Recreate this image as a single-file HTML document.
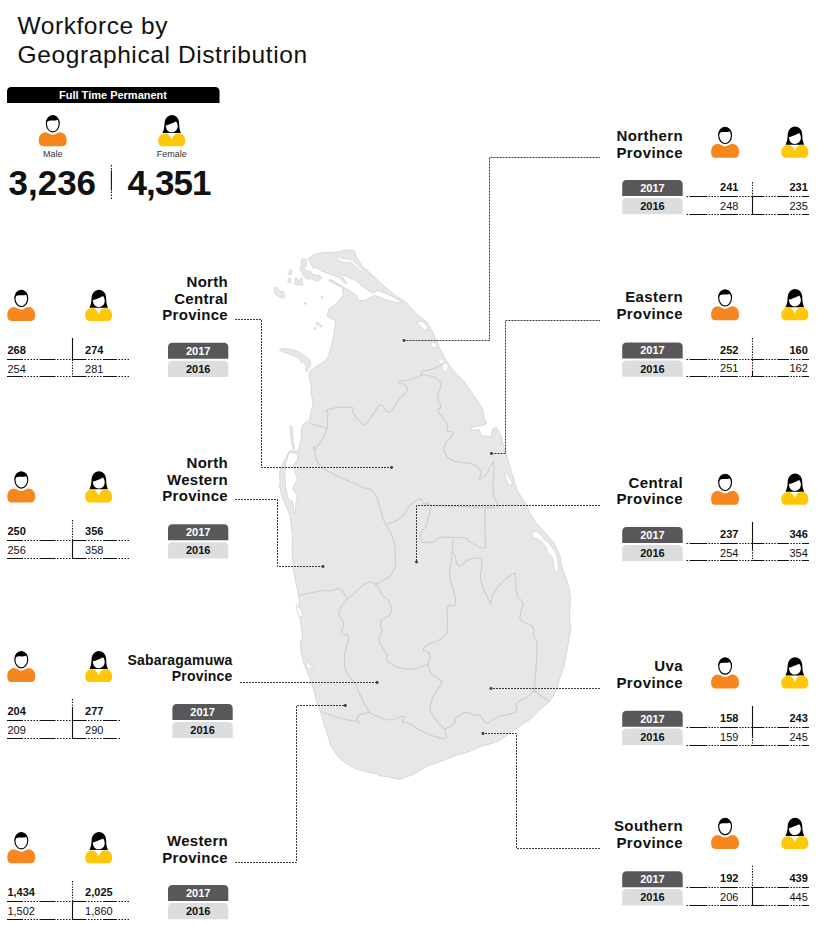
<!DOCTYPE html>
<html><head><meta charset="utf-8"><style>
html,body{margin:0;padding:0;background:#fff;}
svg{display:block;}
text{font-family:"Liberation Sans",sans-serif;fill:#111;}
.b{font-weight:bold;}
.t{font-size:15px;letter-spacing:0.4px;}
.n{font-size:11px;}
</style></head><body>
<svg width="817" height="925" viewBox="0 0 817 925">
<defs>
<symbol id="male" overflow="visible">
<path d="M0,25.3 C0,20.8 2.6,17.3 6.6,17.2 C9.5,17.2 11,19.8 13.95,19.8 C16.9,19.8 18.4,17.2 21.3,17.2 C25.3,17.3 27.9,20.8 27.9,25.3 C27.9,28.6 26.8,31.2 23.6,31.2 L4.3,31.2 C1.1,31.2 0,28.6 0,25.3 Z" fill="#f6871f"/>
<ellipse cx="14" cy="8.75" rx="6.4" ry="8.15" fill="#fff" stroke="#000" stroke-width="1.15"/>
<path d="M7.3,9.2 C7.1,3.6 10.1,0.55 14,0.55 C17.9,0.55 20.9,3.6 20.7,9.2 C20.3,7.4 19.7,5.6 18.9,4.7 C17.3,5.4 15.6,5.6 14,5.5 C12,5.4 10,5.5 8.5,6.4 C8,7.2 7.6,8.2 7.3,9.2 Z" fill="#000"/>
</symbol>
<symbol id="female" overflow="visible">
<path d="M4.2,18.1 C5.5,15.5 6.2,12.5 6.3,9 C6.5,3.5 9.5,0 13.8,0 C18,0 21,3.5 21,9 C21,12.5 21.5,15.5 22.8,18.1 Z" fill="#000"/>
<path d="M7.7,10.4 C10,10 12.5,9 15,7.8 C16,7.3 17,6.8 17.6,6.4 C18.5,7 19.3,8.5 19.5,10.7 C19.7,14.5 17,17.3 13.5,17.3 C10,17.3 7.5,14.5 7.7,10.4 Z" fill="#fff"/>
<path d="M0,25.4 C0,21.2 3,18.4 7,18.4 C9.6,18.4 11.6,20 13.5,24.3 C15.4,20 17.4,18.2 20,18.2 C24,18.2 27,21.2 27,25.4 C27,28.6 25.9,31.2 22.8,31.2 L4.2,31.2 C1.1,31.2 0,28.6 0,25.4 Z" fill="#ffc807"/>
</symbol>
</defs>

<g stroke-linejoin="round" stroke-linecap="round">
<polygon points="308.6,258.2 314.5,254.3 322.3,252.8 336.0,252.3 338.0,251.9 344.8,250.4 352.7,249.9 354.6,251.4 356.6,257.7 362.5,266.5 368.5,271.5 379.6,282.0 391.8,293.0 406.5,302.8 417.5,315.1 427.3,322.4 433.4,333.4 438.3,345.7 445.7,360.0 448.4,363.5 454.5,372.0 464.3,381.8 472.8,394.1 482.6,408.8 483.9,418.5 486.3,421.0 485.1,424.7 479.0,425.9 471.6,427.1 470.4,430.8 479.0,429.6 481.4,435.7 491.2,436.9 492.4,429.6 496.1,427.1 501.0,435.7 504.7,450.0 505.5,452.2 509.2,464.5 514.1,480.4 516.5,489.0 521.4,497.5 526.3,503.6 530.0,513.4 536.1,523.2 543.4,530.6 553.4,542.2 559.6,554.5 562.0,566.7 565.7,577.7 569.4,588.8 570.6,598.5 569.4,615.7 570.6,630.0 568.1,644.5 565.7,656.7 564.0,666.5 559.5,678.8 557.0,688.5 552.5,697.1 547.5,703.2 540.0,709.4 530.5,719.0 520.6,725.5 508.3,734.1 498.5,741.4 481.4,746.3 466.7,752.4 456.9,754.9 444.7,759.8 434.9,763.4 426.9,766.2 413.5,774.3 398.7,779.6 389.2,776.9 378.5,775.6 375.8,773.6 365.0,771.6 352.9,767.5 346.2,763.5 338.1,756.7 332.7,748.7 330.0,744.0 328.6,737.8 323.8,723.2 320.5,711.8 317.3,703.7 314.0,690.8 309.2,676.2 304.3,664.8 301.1,651.9 300.3,642.1 302.7,637.3 301.1,624.3 298.6,609.7 299.4,600.0 297.6,590.7 293.9,572.4 292.1,554.0 292.5,535.6 291.4,525.0 290.2,516.2 281.9,496.0 279.5,486.4 280.1,481.7 279.5,472.1 284.3,460.2 289.0,452.0 291.0,450.5 296.0,451.5 298.6,450.7 301.0,438.8 301.5,428.1 303.3,424.5 309.5,419.5 313.2,402.4 310.6,392.0 311.5,386.9 308.9,376.5 309.8,371.3 316.7,366.1 325.3,360.9 328.8,355.7 330.5,348.8 334.0,335.0 335.7,321.1 327.1,315.9 328.8,309.0 336.1,304.3 343.4,295.1 342.5,287.7 328.7,280.4 330.6,279.5 350.8,291.4 356.3,295.1 358.1,300.6 364.9,300.4 374.7,295.5 384.5,299.2 396.7,302.8 403.0,302.5 390.6,295.5 378.4,290.6 372.2,293.0 360.0,284.5 358.6,282.2 348.8,277.3 342.9,274.9 341.9,276.3 346.8,283.2 345.0,283.5 339.0,277.3 331.1,274.4 322.3,271.4 316.4,267.5 313.5,268.5 309.6,261.6" fill="#e6e7e8" stroke="#d3d4d6" stroke-width="0.9"/>
<polygon points="279.5,349.5 283.0,348.6 287.3,348.8 294.2,350.1 299.4,352.3 303.8,354.9 309.7,359.7 311.0,364.5 308.8,368.2 306.8,371.8 305.3,370.5 306.3,366.5 303.5,362.5 301.5,362.8 299.0,358.0 291.0,354.5 283.8,352.3" fill="#e6e7e8" stroke="#d3d4d6" stroke-width="0.8"/>
<polygon points="300.1,267.6 303.8,268.0 308.2,272.0 310.0,270.6 311.1,272.0 313.3,275.0 319.9,275.3 321.4,278.6 317.0,281.6 313.3,279.4 309.6,278.6 308.2,279.4 304.5,277.2 300.8,271.3" fill="#e6e7e8" stroke="#d3d4d6" stroke-width="0.8"/>
<polygon points="301.9,259.2 306.7,259.2 306.0,266.9 301.6,266.5" fill="#e6e7e8" stroke="#d3d4d6" stroke-width="0.8"/>
<polygon points="295.3,278.3 297.2,278.6 298.3,281.2 300.1,279.4 301.6,277.2 302.3,280.8 302.3,285.2 295.3,284.5" fill="#e6e7e8" stroke="#d3d4d6" stroke-width="0.8"/>
<polygon points="274.4,287.4 276.6,287.4 279.5,291.1 283.6,291.9 284.7,297.0 282.5,298.5 275.9,294.8 274.4,291.9" fill="#e6e7e8" stroke="#d3d4d6" stroke-width="0.8"/>
<polygon points="290.5,269.8 292.0,270.5 290.5,275.0 288.7,274.5" fill="#e6e7e8" stroke="#d3d4d6" stroke-width="0.8"/>
<polygon points="288.6,278.3 290.9,278.8 290.8,283.0 288.4,282.5" fill="#e6e7e8" stroke="#d3d4d6" stroke-width="0.8"/>
<polygon points="290.5,426.0 292.2,426.5 293.2,443.0 294.8,449.0 293.5,450.0 291.5,443.0" fill="#e6e7e8" stroke="#d3d4d6" stroke-width="0.8"/>
<polygon points="305.0,302.5 306.5,303.0 306.0,304.5 304.8,304.0" fill="#e6e7e8" stroke="#d3d4d6" stroke-width="0.8"/>
<polygon points="316.5,322.8 318.5,322.5 319.0,324.5 317.0,325.0" fill="#e6e7e8" stroke="#d3d4d6" stroke-width="0.8"/>
<polygon points="320.0,325.0 321.8,325.5 321.5,327.0 320.2,326.8" fill="#e6e7e8" stroke="#d3d4d6" stroke-width="0.8"/>
<polygon points="321.5,296.5 323.0,297.0 322.6,298.5 321.3,298.0" fill="#e6e7e8" stroke="#d3d4d6" stroke-width="0.8"/>
<polygon points="314.5,327.5 316.0,328.0 315.6,329.5 314.3,329.0" fill="#e6e7e8" stroke="#d3d4d6" stroke-width="0.8"/>
<polygon points="337.5,255.8 342.0,258.7 348.8,258.7 352.7,260.2 358.6,266.5 370.0,276.3 377.0,283.3 375.0,283.8 370.0,278.3 357.6,268.5 350.7,262.1 344.8,262.6 338.0,260.2" fill="#fff" stroke="#d3d4d6" stroke-width="0.8"/>
<polygon points="289.5,452.5 297.5,453.5 297.5,459.0 293.8,465.0 295.0,472.1 297.4,479.3 292.6,488.8 297.4,496.0 296.2,500.7 295.5,508.0 295.0,513.8 293.8,513.5 292.6,501.5 287.9,498.3 285.5,486.4 284.9,472.1 285.5,465.0 287.9,455.5" fill="#fff" stroke="#d3d4d6" stroke-width="0.8"/>
<polygon points="296.2,604.9 301.1,609.7 302.7,616.2 299.4,617.0" fill="#fff" stroke="#d3d4d6" stroke-width="0.8"/>
<polygon points="532.0,532.4 536.3,531.0 541.2,534.9 543.6,539.2 549.2,542.9 555.9,553.3 557.7,559.4 558.3,570.4 555.3,573.5 554.0,566.7 552.2,556.9 547.3,552.0 546.1,547.1 541.2,541.0 532.6,536.7" fill="#fff" stroke="#d3d4d6" stroke-width="0.8"/>
<polygon points="418.0,321.5 422.0,321.0 427.0,326.0 427.3,331.0 423.0,329.0 418.0,324.0" fill="#fff" stroke="#d3d4d6" stroke-width="0.8"/>
<polygon points="431.0,343.0 435.0,342.0 437.0,347.0 433.0,348.0" fill="#fff" stroke="#d3d4d6" stroke-width="0.8"/>
<polygon points="438.6,358.6 442.2,359.2 448.4,365.9 447.1,370.8 443.5,372.0 442.2,365.9 439.2,362.2" fill="#fff" stroke="#d3d4d6" stroke-width="0.8"/>
<polygon points="500.6,443.7 503.0,444.9 504.3,451.0 502.4,449.8" fill="#fff" stroke="#d3d4d6" stroke-width="0.8"/>
<polygon points="307.5,659.5 309.2,664.5 314.0,667.5 309.0,668.5 306.2,666.0" fill="#fff" stroke="#d3d4d6" stroke-width="0.8"/>
<polygon points="505.5,473.0 506.7,473.0 511.6,481.6 512.2,485.3 509.2,485.3 505.5,476.7" fill="#fff" stroke="#d3d4d6" stroke-width="0.8"/>
<path d="M309.80,423.20 L327.10,428.40" fill="none" stroke="#cdced0" stroke-width="1.15"/>
<path d="M327.10,428.40 C327.31,424.69 327.45,419.59 327.90,414.50 C328.35,409.41 322.56,411.14 328.80,409.30 C335.04,407.46 344.85,406.67 351.30,407.60 C357.75,408.53 350.71,409.12 353.00,412.80 C355.29,416.48 356.41,418.52 359.90,421.40 C363.39,424.28 362.15,426.27 366.10,423.60 C370.05,420.93 370.62,416.28 374.70,411.40 C378.78,406.52 377.48,405.14 381.40,405.30 C385.32,405.46 384.65,413.63 389.40,412.00 C394.15,410.37 394.64,404.59 399.20,399.20 C403.76,393.81 404.71,395.40 406.50,391.80 C408.29,388.20 407.85,388.31 405.90,385.70 C403.95,383.09 397.41,383.79 399.20,382.00 C400.99,380.21 406.41,380.95 412.60,379.00 C418.79,377.05 419.79,375.85 422.40,374.70" fill="none" stroke="#cdced0" stroke-width="1.15"/>
<path d="M422.40,374.70 C422.40,373.87 419.47,373.23 422.40,371.60 C425.33,369.97 428.49,370.39 433.40,368.60 C438.31,366.81 437.84,366.55 440.80,364.90 C443.76,363.25 443.51,363.07 444.50,362.40" fill="none" stroke="#cdced0" stroke-width="1.15"/>
<path d="M422.40,374.70 C425.33,375.34 428.49,374.49 433.40,377.10 C438.31,379.71 439.65,379.27 440.80,384.50 C441.95,389.73 437.70,390.83 437.70,396.70 C437.70,402.57 440.64,402.58 440.80,406.50 C440.96,410.42 436.67,406.84 438.30,411.40 C439.93,415.96 444.45,418.37 446.90,423.60 C449.35,428.83 445.87,428.39 447.50,431.00 C449.13,433.61 453.80,429.48 453.00,433.40 C452.20,437.32 446.45,440.15 444.50,445.70 C442.55,451.25 443.75,450.39 445.70,454.20 C447.65,458.01 447.45,457.79 451.80,460.00 C456.15,462.21 457.15,461.62 462.00,462.50 C466.85,463.38 465.92,462.10 470.00,463.30 C474.08,464.50 474.37,464.41 477.30,467.00 C480.23,469.59 480.33,469.75 481.00,473.00 C481.67,476.25 478.17,479.20 479.80,479.20 C481.43,479.20 484.17,476.60 487.10,473.00 C490.03,469.40 488.99,467.65 490.80,465.70 C492.61,463.75 493.23,458.53 493.90,465.70 C494.57,472.87 492.18,482.25 493.30,492.60 C494.42,502.95 497.46,500.53 498.10,504.50 C498.74,508.47 498.63,506.70 495.70,507.50 C492.77,508.30 489.39,507.50 487.10,507.50" fill="none" stroke="#cdced0" stroke-width="1.15"/>
<path d="M327.10,428.40 C325.71,431.63 325.13,434.98 321.90,440.50 C318.67,446.02 316.97,447.29 315.00,449.10 C313.03,450.91 313.33,443.19 314.50,447.30 C315.67,451.41 312.87,456.66 319.40,464.50 C325.93,472.34 327.91,470.83 339.00,476.70 C350.09,482.57 351.53,481.91 361.00,486.50 C370.47,491.09 368.63,485.42 374.50,493.90 C380.37,502.38 380.07,510.14 383.00,518.30 C385.93,526.46 384.83,522.85 385.50,524.50" fill="none" stroke="#cdced0" stroke-width="1.15"/>
<path d="M385.50,524.50 C389.42,522.85 393.67,523.31 400.20,518.30 C406.73,513.29 404.77,510.85 410.00,505.70 C415.23,500.55 416.20,499.64 419.80,499.00 C423.40,498.36 421.21,502.34 423.50,503.30 C425.79,504.26 426.29,502.15 428.40,502.60 C430.51,503.05 415.75,503.69 431.40,505.00 C447.05,506.31 472.25,506.83 487.10,507.50" fill="none" stroke="#cdced0" stroke-width="1.15"/>
<path d="M431.40,506.30 C430.60,509.07 429.87,511.31 428.40,516.70 C426.93,522.09 427.71,522.58 425.90,526.50 C424.09,530.42 422.91,528.12 421.60,531.40 C420.29,534.68 420.17,535.87 421.00,538.80 C421.83,541.73 421.10,541.76 424.70,542.40 C428.30,543.04 430.58,542.51 434.50,541.20 C438.42,539.89 434.52,538.49 439.40,537.50 C444.28,536.51 445.63,537.34 452.80,537.50 C459.97,537.66 462.03,537.11 466.30,538.10 C470.57,539.09 464.24,538.59 468.80,541.20 C473.36,543.81 479.00,547.90 483.40,547.90 C487.80,547.90 484.95,549.52 485.30,541.20 C485.65,532.88 484.54,525.50 484.70,516.70 C484.86,507.90 485.26,510.65 485.90,508.20 C486.54,505.75 486.78,507.69 487.10,507.50" fill="none" stroke="#cdced0" stroke-width="1.15"/>
<path d="M452.80,537.50 C452.64,541.74 453.00,544.73 452.20,553.40 C451.40,562.07 450.28,562.91 449.80,570.00 C449.32,577.09 449.97,576.29 450.40,580.00 C450.83,583.71 450.09,577.63 451.40,583.90 C452.71,590.17 456.34,597.23 455.30,603.50 C454.26,609.77 449.58,601.67 447.50,607.40 C445.42,613.13 448.54,617.16 447.50,625.00 C446.46,632.84 449.87,630.77 443.60,636.80 C437.33,642.83 427.65,642.91 424.00,647.60 C420.35,652.29 428.86,649.97 429.90,654.40 C430.94,658.83 428.43,661.59 427.90,664.20" fill="none" stroke="#cdced0" stroke-width="1.15"/>
<path d="M452.20,553.40 C452.87,553.75 452.89,551.42 454.70,554.70 C456.51,557.98 455.24,564.39 459.00,565.70 C462.76,567.01 463.25,561.57 468.80,559.60 C474.35,557.63 476.39,557.34 479.80,558.30 C483.21,559.26 481.12,560.08 481.60,563.20 C482.08,566.32 481.60,568.19 481.60,570.00" fill="none" stroke="#cdced0" stroke-width="1.15"/>
<path d="M481.60,570.00 C481.39,572.67 478.93,572.05 480.80,580.00 C482.67,587.95 485.88,593.88 488.60,599.80 C491.32,605.72 489.69,603.85 491.00,602.20 C492.31,600.55 490.57,598.83 493.50,593.60 C496.43,588.37 496.80,587.80 502.00,582.60 C507.20,577.40 509.40,575.73 513.00,574.10 C516.60,572.47 514.51,571.30 515.50,576.50 C516.49,581.70 514.75,586.43 516.70,593.60 C518.65,600.77 521.81,598.17 522.80,603.40 C523.79,608.63 520.72,608.61 520.40,613.20 C520.08,617.79 518.35,617.00 521.60,620.60 C524.85,624.20 529.32,622.30 532.60,626.70 C535.88,631.10 532.75,632.67 533.90,637.10 C535.05,641.53 536.26,636.45 536.90,643.30 C537.54,650.15 536.94,650.75 536.30,662.80 C535.66,674.85 534.82,680.98 534.50,688.50 C534.18,696.02 533.31,689.03 535.10,691.00 C536.89,692.97 537.49,693.15 541.20,695.90 C544.91,698.65 546.92,699.86 549.00,701.30" fill="none" stroke="#cdced0" stroke-width="1.15"/>
<path d="M385.50,524.50 C387.45,528.07 390.19,529.10 392.80,537.90 C395.41,546.70 395.30,548.35 395.30,557.50 C395.30,566.65 396.72,565.67 392.80,572.20 C388.88,578.73 385.35,578.88 380.60,582.00 C375.85,585.12 376.49,583.39 375.00,583.90" fill="none" stroke="#cdced0" stroke-width="1.15"/>
<path d="M299.60,595.40 C305.44,594.15 312.73,591.95 321.50,590.70 C330.27,589.45 327.59,591.18 332.50,590.70 C337.41,590.22 335.87,586.79 339.90,588.90 C343.93,591.01 345.55,596.01 347.60,598.60" fill="none" stroke="#cdced0" stroke-width="1.15"/>
<path d="M347.60,598.60 C349.17,597.29 348.78,597.62 353.50,593.70 C358.22,589.78 359.57,586.51 365.30,583.90 C371.03,581.29 370.31,580.75 375.00,583.90 C379.69,587.05 379.22,591.01 382.90,595.70 C386.58,600.39 386.72,596.81 388.80,601.50 C390.88,606.19 392.81,608.07 390.70,613.30 C388.59,618.53 383.25,616.41 380.90,621.10 C378.55,625.79 382.41,625.67 381.90,630.90 C381.39,636.13 377.69,634.43 379.00,640.70 C380.31,646.97 384.19,648.64 386.80,654.40 C389.41,660.16 383.07,658.38 388.80,662.30 C394.53,666.22 397.87,668.59 408.30,669.10 C418.73,669.61 422.67,665.51 427.90,664.20" fill="none" stroke="#cdced0" stroke-width="1.15"/>
<path d="M347.60,598.60 C345.52,601.48 341.88,604.44 339.80,609.40 C337.72,614.36 338.76,613.55 339.80,617.20 C340.84,620.85 343.17,618.91 343.70,623.10 C344.23,627.29 340.49,628.98 341.80,632.90 C343.11,636.82 347.83,632.07 348.60,637.80 C349.37,643.53 345.23,645.28 344.70,654.40 C344.17,663.52 343.72,664.16 346.60,672.00 C349.48,679.84 352.09,678.04 355.50,683.80 C358.91,689.56 356.49,687.44 359.40,693.60 C362.31,699.76 363.84,701.91 366.40,706.90 C368.96,711.89 368.31,710.86 369.00,712.30" fill="none" stroke="#cdced0" stroke-width="1.15"/>
<path d="M322.10,711.80 C326.37,713.37 328.82,715.06 338.10,717.70 C347.38,720.34 351.35,720.26 356.90,721.70 C362.45,723.14 358.71,724.51 358.90,723.10 C359.09,721.69 354.91,719.28 357.60,716.40 C360.29,713.52 365.96,713.39 369.00,712.30" fill="none" stroke="#cdced0" stroke-width="1.15"/>
<path d="M369.00,712.30 C374.04,714.27 379.26,718.61 387.90,719.70 C396.54,720.79 397.11,716.75 401.40,716.40 C405.69,716.05 403.65,716.99 404.00,718.40 C404.35,719.81 400.89,720.10 402.70,721.70 C404.51,723.30 405.04,721.52 410.80,724.40 C416.56,727.28 416.51,728.90 424.30,732.50 C432.09,736.10 434.24,736.51 440.00,737.90 C445.76,739.29 444.65,740.02 445.90,737.70 C447.15,735.38 445.02,731.47 444.70,729.20" fill="none" stroke="#cdced0" stroke-width="1.15"/>
<path d="M427.90,664.20 C428.94,666.81 428.15,669.31 431.80,674.00 C435.45,678.69 440.13,677.53 441.60,681.80 C443.07,686.07 440.07,684.56 437.30,690.00 C434.53,695.44 432.51,695.67 431.20,702.20 C429.89,708.73 428.80,707.30 432.40,714.50 C436.00,721.70 441.42,725.28 444.70,729.20" fill="none" stroke="#cdced0" stroke-width="1.15"/>
<path d="M444.70,729.20 C447.31,727.55 451.57,725.93 454.50,723.00 C457.43,720.07 452.77,720.97 455.70,718.20 C458.63,715.43 460.27,713.27 465.50,712.60 C470.73,711.93 471.70,715.19 475.30,715.70 C478.90,716.21 476.71,713.19 479.00,714.50 C481.29,715.81 481.63,718.33 483.90,720.60 C486.17,722.87 483.63,724.04 487.50,723.00 C491.37,721.96 490.93,719.69 498.40,716.70 C505.87,713.71 510.62,715.40 515.50,711.80 C520.38,708.20 513.10,707.44 516.70,703.20 C520.30,698.96 524.25,699.82 529.00,695.90 C533.75,691.98 533.03,690.47 534.50,688.50" fill="none" stroke="#cdced0" stroke-width="1.15"/>
</g>
<text x="17.6" y="33.8" font-size="24.5" letter-spacing="0.55">Workforce by</text>
<text x="17.6" y="62.5" font-size="24.5" letter-spacing="0.6">Geographical Distribution</text>
<path d="M7,103 L7,91.5 Q7,87 11.5,87 L215,87 Q219.5,87 219.5,91.5 L219.5,103 Z" fill="#000"/>
<text x="113" y="99" text-anchor="middle" class="b" font-size="11" fill="#fff" style="fill:#fff">Full Time Permanent</text>
<use href="#male" transform="translate(38.8,115) scale(1.0)"/><use href="#female" transform="translate(158.2,115) scale(1.0)"/>
<text x="52.8" y="156.7" text-anchor="middle" font-size="9" style="fill:#333">Male</text>
<text x="171.7" y="156.7" text-anchor="middle" font-size="9" style="fill:#333">Female</text>
<text x="8.5" y="194.8" class="b" font-size="35">3,236</text>
<text x="127.5" y="194.8" class="b" font-size="35" letter-spacing="-0.9">4,351</text>
<line x1="111.4" y1="165" x2="111.4" y2="170" stroke="#111" stroke-width="1.1" stroke-dasharray="1.5 1.5"/><line x1="111.4" y1="170.3" x2="111.4" y2="190.6" stroke="#111" stroke-width="1.1"/><line x1="111.4" y1="191.5" x2="111.4" y2="199.7" stroke="#111" stroke-width="1.1" stroke-dasharray="1.5 1.5"/>
<use href="#male" transform="translate(7.3,289.7) scale(1.0)"/><use href="#female" transform="translate(85.2,289.7) scale(1.0)"/><text x="228.0" y="286.6" text-anchor="end" class="b" style="font-size:15px;letter-spacing:0.3px">North</text><text x="228.0" y="303.7" text-anchor="end" class="b" style="font-size:15px;letter-spacing:0.3px">Central</text><text x="228.0" y="319.8" text-anchor="end" class="b" style="font-size:15px;letter-spacing:0.3px">Province</text><text x="7.4" y="353.9" class="b n">268</text><text x="85.1" y="353.9" class="b n">274</text><text x="7.4" y="372.8" class="n">254</text><text x="85.1" y="372.8" class="n">281</text><line x1="7" y1="359.5" x2="72.5" y2="359.5" stroke="#111" stroke-width="1.1" stroke-dasharray="16 1.5 1.5 1.5 1.5 1.5 1.5 1.5 1.5 1.5 1.5 1.5"/><line x1="72.5" y1="359.5" x2="129" y2="359.5" stroke="#111" stroke-width="1.1" stroke-dasharray="14 1.5 1.5 1.5 1.5 1.5 1.5 1.5 1.5 1.5 1.5 1.5"/><line x1="7" y1="376.5" x2="72.5" y2="376.5" stroke="#111" stroke-width="1.1" stroke-dasharray="16 1.5 1.5 1.5 1.5 1.5 1.5 1.5 1.5 1.5 1.5 1.5"/><line x1="72.5" y1="376.5" x2="129" y2="376.5" stroke="#111" stroke-width="1.1" stroke-dasharray="14 1.5 1.5 1.5 1.5 1.5 1.5 1.5 1.5 1.5 1.5 1.5"/><path d="M168,358.8 L168,347.3 Q168,342.8 172.5,342.8 L223.8,342.8 Q228.3,342.8 228.3,347.3 L228.3,358.8 Z" fill="#58585a"/><text x="198.15" y="354.5" text-anchor="middle" class="b" font-size="11" style="fill:#fff">2017</text><path d="M168,376.9 L168,365.2 Q168,360.7 172.5,360.7 L223.8,360.7 Q228.3,360.7 228.3,365.2 L228.3,376.9 Z" fill="#dcdddf"/><text x="198.15" y="372.59999999999997" text-anchor="middle" class="b" font-size="11" style="fill:#111">2016</text>
<line x1="72.5" y1="338" x2="72.5" y2="359.5" stroke="#111" stroke-width="1.1"/><line x1="72.5" y1="359.5" x2="72.5" y2="376.5" stroke="#111" stroke-width="1.1" stroke-dasharray="1.4 1.3"/>
<use href="#male" transform="translate(7.3,471.2) scale(1.0)"/><use href="#female" transform="translate(85.2,471.2) scale(1.0)"/><text x="228.0" y="468.2" text-anchor="end" class="b" style="font-size:15px;letter-spacing:0.3px">North</text><text x="228.0" y="484.8" text-anchor="end" class="b" style="font-size:15px;letter-spacing:0.3px">Western</text><text x="228.0" y="501.4" text-anchor="end" class="b" style="font-size:15px;letter-spacing:0.3px">Province</text><text x="7.4" y="535.4" class="b n">250</text><text x="85.1" y="535.4" class="b n">356</text><text x="7.4" y="554.3" class="n">256</text><text x="85.1" y="554.3" class="n">358</text><line x1="7" y1="540.5" x2="72.5" y2="540.5" stroke="#111" stroke-width="1.1" stroke-dasharray="16 1.5 1.5 1.5 1.5 1.5 1.5 1.5 1.5 1.5 1.5 1.5"/><line x1="72.5" y1="540.5" x2="129" y2="540.5" stroke="#111" stroke-width="1.1" stroke-dasharray="14 1.5 1.5 1.5 1.5 1.5 1.5 1.5 1.5 1.5 1.5 1.5"/><line x1="7" y1="558.5" x2="72.5" y2="558.5" stroke="#111" stroke-width="1.1" stroke-dasharray="16 1.5 1.5 1.5 1.5 1.5 1.5 1.5 1.5 1.5 1.5 1.5"/><line x1="72.5" y1="558.5" x2="129" y2="558.5" stroke="#111" stroke-width="1.1" stroke-dasharray="14 1.5 1.5 1.5 1.5 1.5 1.5 1.5 1.5 1.5 1.5 1.5"/><path d="M168,540.3 L168,528.8 Q168,524.3 172.5,524.3 L223.8,524.3 Q228.3,524.3 228.3,528.8 L228.3,540.3 Z" fill="#58585a"/><text x="198.15" y="536.0" text-anchor="middle" class="b" font-size="11" style="fill:#fff">2017</text><path d="M168,558.4000000000001 L168,546.7 Q168,542.2 172.5,542.2 L223.8,542.2 Q228.3,542.2 228.3,546.7 L228.3,558.4000000000001 Z" fill="#dcdddf"/><text x="198.15" y="554.1000000000001" text-anchor="middle" class="b" font-size="11" style="fill:#111">2016</text>
<line x1="72.5" y1="520" x2="72.5" y2="540.5" stroke="#111" stroke-width="1.1" stroke-dasharray="1.4 1.3"/><line x1="72.5" y1="540.5" x2="72.5" y2="558.5" stroke="#111" stroke-width="1.1"/>
<use href="#male" transform="translate(7.3,650.9) scale(1.0)"/><use href="#female" transform="translate(85.2,650.9) scale(1.0)"/><text x="232.5" y="664.8" text-anchor="end" class="b" style="font-size:14px;letter-spacing:0.2px">Sabaragamuwa</text><text x="232.5" y="681.1" text-anchor="end" class="b" style="font-size:14px;letter-spacing:0.2px">Province</text><text x="7.4" y="715.0999999999999" class="b n">204</text><text x="85.1" y="715.0999999999999" class="b n">277</text><text x="7.4" y="734.0" class="n">209</text><text x="85.1" y="734.0" class="n">290</text><line x1="7" y1="720.5" x2="72.5" y2="720.5" stroke="#111" stroke-width="1.1" stroke-dasharray="16 1.5 1.5 1.5 1.5 1.5 1.5 1.5 1.5 1.5 1.5 1.5"/><line x1="72.5" y1="720.5" x2="120.4" y2="720.5" stroke="#111" stroke-width="1.1" stroke-dasharray="14 1.5 1.5 1.5 1.5 1.5 1.5 1.5 1.5 1.5 1.5 1.5"/><line x1="7" y1="738.5" x2="72.5" y2="738.5" stroke="#111" stroke-width="1.1" stroke-dasharray="16 1.5 1.5 1.5 1.5 1.5 1.5 1.5 1.5 1.5 1.5 1.5"/><line x1="72.5" y1="738.5" x2="120.4" y2="738.5" stroke="#111" stroke-width="1.1" stroke-dasharray="14 1.5 1.5 1.5 1.5 1.5 1.5 1.5 1.5 1.5 1.5 1.5"/><path d="M172.4,720.0 L172.4,708.5 Q172.4,704.0 176.9,704.0 L228.2,704.0 Q232.7,704.0 232.7,708.5 L232.7,720.0 Z" fill="#58585a"/><text x="202.55" y="715.7" text-anchor="middle" class="b" font-size="11" style="fill:#fff">2017</text><path d="M172.4,738.1 L172.4,726.4 Q172.4,721.9 176.9,721.9 L228.2,721.9 Q232.7,721.9 232.7,726.4 L232.7,738.1 Z" fill="#dcdddf"/><text x="202.55" y="733.8000000000001" text-anchor="middle" class="b" font-size="11" style="fill:#111">2016</text>
<line x1="72.5" y1="699" x2="72.5" y2="708" stroke="#111" stroke-width="1.1" stroke-dasharray="1.4 1.3"/><line x1="72.5" y1="708" x2="72.5" y2="738.5" stroke="#111" stroke-width="1.1"/>
<use href="#male" transform="translate(7.3,832.0) scale(1.0)"/><use href="#female" transform="translate(85.2,832.0) scale(1.0)"/><text x="228.0" y="845.9" text-anchor="end" class="b" style="font-size:15px;letter-spacing:0.3px">Western</text><text x="228.0" y="862.6" text-anchor="end" class="b" style="font-size:15px;letter-spacing:0.3px">Province</text><text x="7.4" y="896.1999999999999" class="b n">1,434</text><text x="85.1" y="896.1999999999999" class="b n">2,025</text><text x="7.4" y="915.0999999999999" class="n">1,502</text><text x="85.1" y="915.0999999999999" class="n">1,860</text><line x1="7" y1="901.5" x2="72.5" y2="901.5" stroke="#111" stroke-width="1.1" stroke-dasharray="16 1.5 1.5 1.5 1.5 1.5 1.5 1.5 1.5 1.5 1.5 1.5"/><line x1="72.5" y1="901.5" x2="129" y2="901.5" stroke="#111" stroke-width="1.1" stroke-dasharray="14 1.5 1.5 1.5 1.5 1.5 1.5 1.5 1.5 1.5 1.5 1.5"/><line x1="7" y1="919.5" x2="72.5" y2="919.5" stroke="#111" stroke-width="1.1" stroke-dasharray="16 1.5 1.5 1.5 1.5 1.5 1.5 1.5 1.5 1.5 1.5 1.5"/><line x1="72.5" y1="919.5" x2="129" y2="919.5" stroke="#111" stroke-width="1.1" stroke-dasharray="14 1.5 1.5 1.5 1.5 1.5 1.5 1.5 1.5 1.5 1.5 1.5"/><path d="M168,901.0999999999999 L168,889.5999999999999 Q168,885.0999999999999 172.5,885.0999999999999 L223.8,885.0999999999999 Q228.3,885.0999999999999 228.3,889.5999999999999 L228.3,901.0999999999999 Z" fill="#58585a"/><text x="198.15" y="896.8" text-anchor="middle" class="b" font-size="11" style="fill:#fff">2017</text><path d="M168,919.2 L168,907.5 Q168,903.0 172.5,903.0 L223.8,903.0 Q228.3,903.0 228.3,907.5 L228.3,919.2 Z" fill="#dcdddf"/><text x="198.15" y="914.9000000000001" text-anchor="middle" class="b" font-size="11" style="fill:#111">2016</text>
<line x1="72.5" y1="881" x2="72.5" y2="901.5" stroke="#111" stroke-width="1.1" stroke-dasharray="1.4 1.3"/><line x1="72.5" y1="901.5" x2="72.5" y2="919.5" stroke="#111" stroke-width="1.1"/>
<use href="#male" transform="translate(711.1,126.6) scale(1.0)"/><use href="#female" transform="translate(781.35,126.6) scale(1.0)"/><text x="683" y="140.9" text-anchor="end" class="b t">Northern</text><text x="683" y="157.7" text-anchor="end" class="b t">Province</text><text x="738.4" y="191" text-anchor="end" class="b n">241</text><text x="807.8" y="191" text-anchor="end" class="b n">231</text><text x="738.4" y="209.9" text-anchor="end" class="n">248</text><text x="807.8" y="209.9" text-anchor="end" class="n">235</text><line x1="686.5" y1="196.5" x2="752.5" y2="196.5" stroke="#111" stroke-width="1.1" stroke-dasharray="1.5 1.5 17.7 1.5 1.5 1.3 1.5 1.3 1.5 1.3"/><line x1="752.5" y1="196.5" x2="809" y2="196.5" stroke="#111" stroke-width="1.1" stroke-dasharray="11.8 1.5 1.5 1.3 1.5 1.3 1.5 1.3 1.5 1.5"/><line x1="686.5" y1="214.5" x2="752.5" y2="214.5" stroke="#111" stroke-width="1.1" stroke-dasharray="1.5 1.5 17.7 1.5 1.5 1.3 1.5 1.3 1.5 1.3"/><line x1="752.5" y1="214.5" x2="809" y2="214.5" stroke="#111" stroke-width="1.1" stroke-dasharray="11.8 1.5 1.5 1.3 1.5 1.3 1.5 1.3 1.5 1.5"/><path d="M622.2,196.1 L622.2,184.6 Q622.2,180.1 626.7,180.1 L678.2,180.1 Q682.7,180.1 682.7,184.6 L682.7,196.1 Z" fill="#58585a"/><text x="652.45" y="191.79999999999998" text-anchor="middle" class="b" font-size="11" style="fill:#fff">2017</text><path d="M622.2,214.3 L622.2,202.4 Q622.2,197.9 626.7,197.9 L678.2,197.9 Q682.7,197.9 682.7,202.4 L682.7,214.3 Z" fill="#dcdddf"/><text x="652.45" y="210.0" text-anchor="middle" class="b" font-size="11" style="fill:#111">2016</text>
<line x1="752.5" y1="182" x2="752.5" y2="196.5" stroke="#111" stroke-width="1.1" stroke-dasharray="1.4 1.3"/><line x1="752.5" y1="196.5" x2="752.5" y2="214.5" stroke="#111" stroke-width="1.1"/>
<use href="#male" transform="translate(711.1,289.1) scale(1.0)"/><use href="#female" transform="translate(781.35,289.1) scale(1.0)"/><text x="683" y="302.3" text-anchor="end" class="b t">Eastern</text><text x="683" y="319.3" text-anchor="end" class="b t">Province</text><text x="738.4" y="353.5" text-anchor="end" class="b n">252</text><text x="807.8" y="353.5" text-anchor="end" class="b n">160</text><text x="738.4" y="372.4" text-anchor="end" class="n">251</text><text x="807.8" y="372.4" text-anchor="end" class="n">162</text><line x1="686.5" y1="359.5" x2="752.5" y2="359.5" stroke="#111" stroke-width="1.1" stroke-dasharray="1.5 1.5 17.7 1.5 1.5 1.3 1.5 1.3 1.5 1.3"/><line x1="752.5" y1="359.5" x2="809" y2="359.5" stroke="#111" stroke-width="1.1" stroke-dasharray="11.8 1.5 1.5 1.3 1.5 1.3 1.5 1.3 1.5 1.5"/><line x1="686.5" y1="376.5" x2="752.5" y2="376.5" stroke="#111" stroke-width="1.1" stroke-dasharray="1.5 1.5 17.7 1.5 1.5 1.3 1.5 1.3 1.5 1.3"/><line x1="752.5" y1="376.5" x2="809" y2="376.5" stroke="#111" stroke-width="1.1" stroke-dasharray="11.8 1.5 1.5 1.3 1.5 1.3 1.5 1.3 1.5 1.5"/><path d="M622.2,358.6 L622.2,347.1 Q622.2,342.6 626.7,342.6 L678.2,342.6 Q682.7,342.6 682.7,347.1 L682.7,358.6 Z" fill="#58585a"/><text x="652.45" y="354.3" text-anchor="middle" class="b" font-size="11" style="fill:#fff">2017</text><path d="M622.2,376.79999999999995 L622.2,364.9 Q622.2,360.4 626.7,360.4 L678.2,360.4 Q682.7,360.4 682.7,364.9 L682.7,376.79999999999995 Z" fill="#dcdddf"/><text x="652.45" y="372.49999999999994" text-anchor="middle" class="b" font-size="11" style="fill:#111">2016</text>
<line x1="752.5" y1="338" x2="752.5" y2="370.5" stroke="#111" stroke-width="1.1" stroke-dasharray="1.4 1.3"/><line x1="752.5" y1="370.5" x2="752.5" y2="376.5" stroke="#111" stroke-width="1.1"/>
<use href="#male" transform="translate(711.1,473.6) scale(1.0)"/><use href="#female" transform="translate(781.35,473.6) scale(1.0)"/><text x="683" y="487.8" text-anchor="end" class="b t">Central</text><text x="683" y="504.3" text-anchor="end" class="b t">Province</text><text x="738.4" y="538" text-anchor="end" class="b n">237</text><text x="807.8" y="538" text-anchor="end" class="b n">346</text><text x="738.4" y="556.9" text-anchor="end" class="n">254</text><text x="807.8" y="556.9" text-anchor="end" class="n">354</text><line x1="686.5" y1="543.5" x2="752.5" y2="543.5" stroke="#111" stroke-width="1.1" stroke-dasharray="1.5 1.5 17.7 1.5 1.5 1.3 1.5 1.3 1.5 1.3"/><line x1="752.5" y1="543.5" x2="809" y2="543.5" stroke="#111" stroke-width="1.1" stroke-dasharray="11.8 1.5 1.5 1.3 1.5 1.3 1.5 1.3 1.5 1.5"/><line x1="686.5" y1="560.5" x2="752.5" y2="560.5" stroke="#111" stroke-width="1.1" stroke-dasharray="1.5 1.5 17.7 1.5 1.5 1.3 1.5 1.3 1.5 1.3"/><line x1="752.5" y1="560.5" x2="809" y2="560.5" stroke="#111" stroke-width="1.1" stroke-dasharray="11.8 1.5 1.5 1.3 1.5 1.3 1.5 1.3 1.5 1.5"/><path d="M622.2,543.1 L622.2,531.6 Q622.2,527.1 626.7,527.1 L678.2,527.1 Q682.7,527.1 682.7,531.6 L682.7,543.1 Z" fill="#58585a"/><text x="652.45" y="538.8000000000001" text-anchor="middle" class="b" font-size="11" style="fill:#fff">2017</text><path d="M622.2,561.3 L622.2,549.4 Q622.2,544.9 626.7,544.9 L678.2,544.9 Q682.7,544.9 682.7,549.4 L682.7,561.3 Z" fill="#dcdddf"/><text x="652.45" y="557.0" text-anchor="middle" class="b" font-size="11" style="fill:#111">2016</text>
<line x1="752.5" y1="522" x2="752.5" y2="549.6" stroke="#111" stroke-width="1.1"/><line x1="752.5" y1="549.6" x2="752.5" y2="560.5" stroke="#111" stroke-width="1.1" stroke-dasharray="1.4 1.3"/>
<use href="#male" transform="translate(711.1,657.3000000000001) scale(1.0)"/><use href="#female" transform="translate(781.35,657.3000000000001) scale(1.0)"/><text x="683" y="671" text-anchor="end" class="b t">Uva</text><text x="683" y="688" text-anchor="end" class="b t">Province</text><text x="738.4" y="721.7" text-anchor="end" class="b n">158</text><text x="807.8" y="721.7" text-anchor="end" class="b n">243</text><text x="738.4" y="740.6" text-anchor="end" class="n">159</text><text x="807.8" y="740.6" text-anchor="end" class="n">245</text><line x1="686.5" y1="727.5" x2="752.5" y2="727.5" stroke="#111" stroke-width="1.1" stroke-dasharray="1.5 1.5 17.7 1.5 1.5 1.3 1.5 1.3 1.5 1.3"/><line x1="752.5" y1="727.5" x2="809" y2="727.5" stroke="#111" stroke-width="1.1" stroke-dasharray="11.8 1.5 1.5 1.3 1.5 1.3 1.5 1.3 1.5 1.5"/><line x1="686.5" y1="745.5" x2="752.5" y2="745.5" stroke="#111" stroke-width="1.1" stroke-dasharray="1.5 1.5 17.7 1.5 1.5 1.3 1.5 1.3 1.5 1.3"/><line x1="752.5" y1="745.5" x2="809" y2="745.5" stroke="#111" stroke-width="1.1" stroke-dasharray="11.8 1.5 1.5 1.3 1.5 1.3 1.5 1.3 1.5 1.5"/><path d="M622.2,726.8000000000001 L622.2,715.3000000000001 Q622.2,710.8000000000001 626.7,710.8000000000001 L678.2,710.8000000000001 Q682.7,710.8000000000001 682.7,715.3000000000001 L682.7,726.8000000000001 Z" fill="#58585a"/><text x="652.45" y="722.5000000000001" text-anchor="middle" class="b" font-size="11" style="fill:#fff">2017</text><path d="M622.2,745.0 L622.2,733.1 Q622.2,728.6 626.7,728.6 L678.2,728.6 Q682.7,728.6 682.7,733.1 L682.7,745.0 Z" fill="#dcdddf"/><text x="652.45" y="740.7" text-anchor="middle" class="b" font-size="11" style="fill:#111">2016</text>
<line x1="752.5" y1="706" x2="752.5" y2="736.8" stroke="#111" stroke-width="1.1"/><line x1="752.5" y1="736.8" x2="752.5" y2="745.5" stroke="#111" stroke-width="1.1" stroke-dasharray="1.4 1.3"/>
<use href="#male" transform="translate(711.1,817.8000000000001) scale(1.0)"/><use href="#female" transform="translate(781.35,817.8000000000001) scale(1.0)"/><text x="683" y="831" text-anchor="end" class="b t">Southern</text><text x="683" y="848" text-anchor="end" class="b t">Province</text><text x="738.4" y="882.2" text-anchor="end" class="b n">192</text><text x="807.8" y="882.2" text-anchor="end" class="b n">439</text><text x="738.4" y="901.1" text-anchor="end" class="n">206</text><text x="807.8" y="901.1" text-anchor="end" class="n">445</text><line x1="686.5" y1="887.5" x2="752.5" y2="887.5" stroke="#111" stroke-width="1.1" stroke-dasharray="1.5 1.5 17.7 1.5 1.5 1.3 1.5 1.3 1.5 1.3"/><line x1="752.5" y1="887.5" x2="809" y2="887.5" stroke="#111" stroke-width="1.1" stroke-dasharray="11.8 1.5 1.5 1.3 1.5 1.3 1.5 1.3 1.5 1.5"/><line x1="686.5" y1="905.5" x2="752.5" y2="905.5" stroke="#111" stroke-width="1.1" stroke-dasharray="1.5 1.5 17.7 1.5 1.5 1.3 1.5 1.3 1.5 1.3"/><line x1="752.5" y1="905.5" x2="809" y2="905.5" stroke="#111" stroke-width="1.1" stroke-dasharray="11.8 1.5 1.5 1.3 1.5 1.3 1.5 1.3 1.5 1.5"/><path d="M622.2,887.3000000000001 L622.2,875.8000000000001 Q622.2,871.3000000000001 626.7,871.3000000000001 L678.2,871.3000000000001 Q682.7,871.3000000000001 682.7,875.8000000000001 L682.7,887.3000000000001 Z" fill="#58585a"/><text x="652.45" y="883.0000000000001" text-anchor="middle" class="b" font-size="11" style="fill:#fff">2017</text><path d="M622.2,905.5 L622.2,893.6 Q622.2,889.1 626.7,889.1 L678.2,889.1 Q682.7,889.1 682.7,893.6 L682.7,905.5 Z" fill="#dcdddf"/><text x="652.45" y="901.2" text-anchor="middle" class="b" font-size="11" style="fill:#111">2016</text>
<line x1="752.5" y1="865.7" x2="752.5" y2="887.5" stroke="#111" stroke-width="1.1" stroke-dasharray="1.4 1.3"/><line x1="752.5" y1="887.5" x2="752.5" y2="905.5" stroke="#111" stroke-width="1.1"/>
<path d="M403.5,340.5 L489.5,340.5 L489.5,157.5 L600,157.5" fill="none" stroke="#3a3a3a" stroke-width="1" stroke-dasharray="2 1"/><circle cx="404" cy="340.5" r="1.45" fill="#3a3a3a"/>
<path d="M491.5,453.5 L505.5,453.5 L505.5,320.5 L600,320.5" fill="none" stroke="#3a3a3a" stroke-width="1" stroke-dasharray="2 1"/><circle cx="491.4" cy="453.5" r="1.45" fill="#3a3a3a"/>
<path d="M235,319.5 L261.5,319.5 L261.5,467.5 L391.5,467.5" fill="none" stroke="#3a3a3a" stroke-width="1" stroke-dasharray="2 1"/><circle cx="391.6" cy="467.5" r="1.45" fill="#3a3a3a"/>
<path d="M235,499.5 L277.5,499.5 L277.5,566.5 L322.5,566.5" fill="none" stroke="#3a3a3a" stroke-width="1" stroke-dasharray="2 1"/><circle cx="323" cy="566.5" r="1.45" fill="#3a3a3a"/>
<path d="M600,505.5 L416.5,505.5 L416.5,562" fill="none" stroke="#3a3a3a" stroke-width="1" stroke-dasharray="2 1"/><circle cx="416.5" cy="562" r="1.45" fill="#3a3a3a"/>
<path d="M240,682.5 L377,682.5" fill="none" stroke="#3a3a3a" stroke-width="1" stroke-dasharray="2 1"/><circle cx="377.1" cy="682.5" r="1.45" fill="#3a3a3a"/>
<path d="M235,862.5 L296.5,862.5 L296.5,705.5 L345,705.5" fill="none" stroke="#3a3a3a" stroke-width="1" stroke-dasharray="2 1"/><circle cx="345.3" cy="705.5" r="1.45" fill="#3a3a3a"/>
<path d="M600,688.5 L491,688.5" fill="none" stroke="#3a3a3a" stroke-width="1" stroke-dasharray="2 1"/><circle cx="491" cy="688.5" r="1.45" fill="#3a3a3a"/>
<path d="M600,848.5 L516.5,848.5 L516.5,733.5 L483,733.5" fill="none" stroke="#3a3a3a" stroke-width="1" stroke-dasharray="2 1"/><circle cx="483" cy="733.5" r="1.45" fill="#3a3a3a"/>
</svg></body></html>
